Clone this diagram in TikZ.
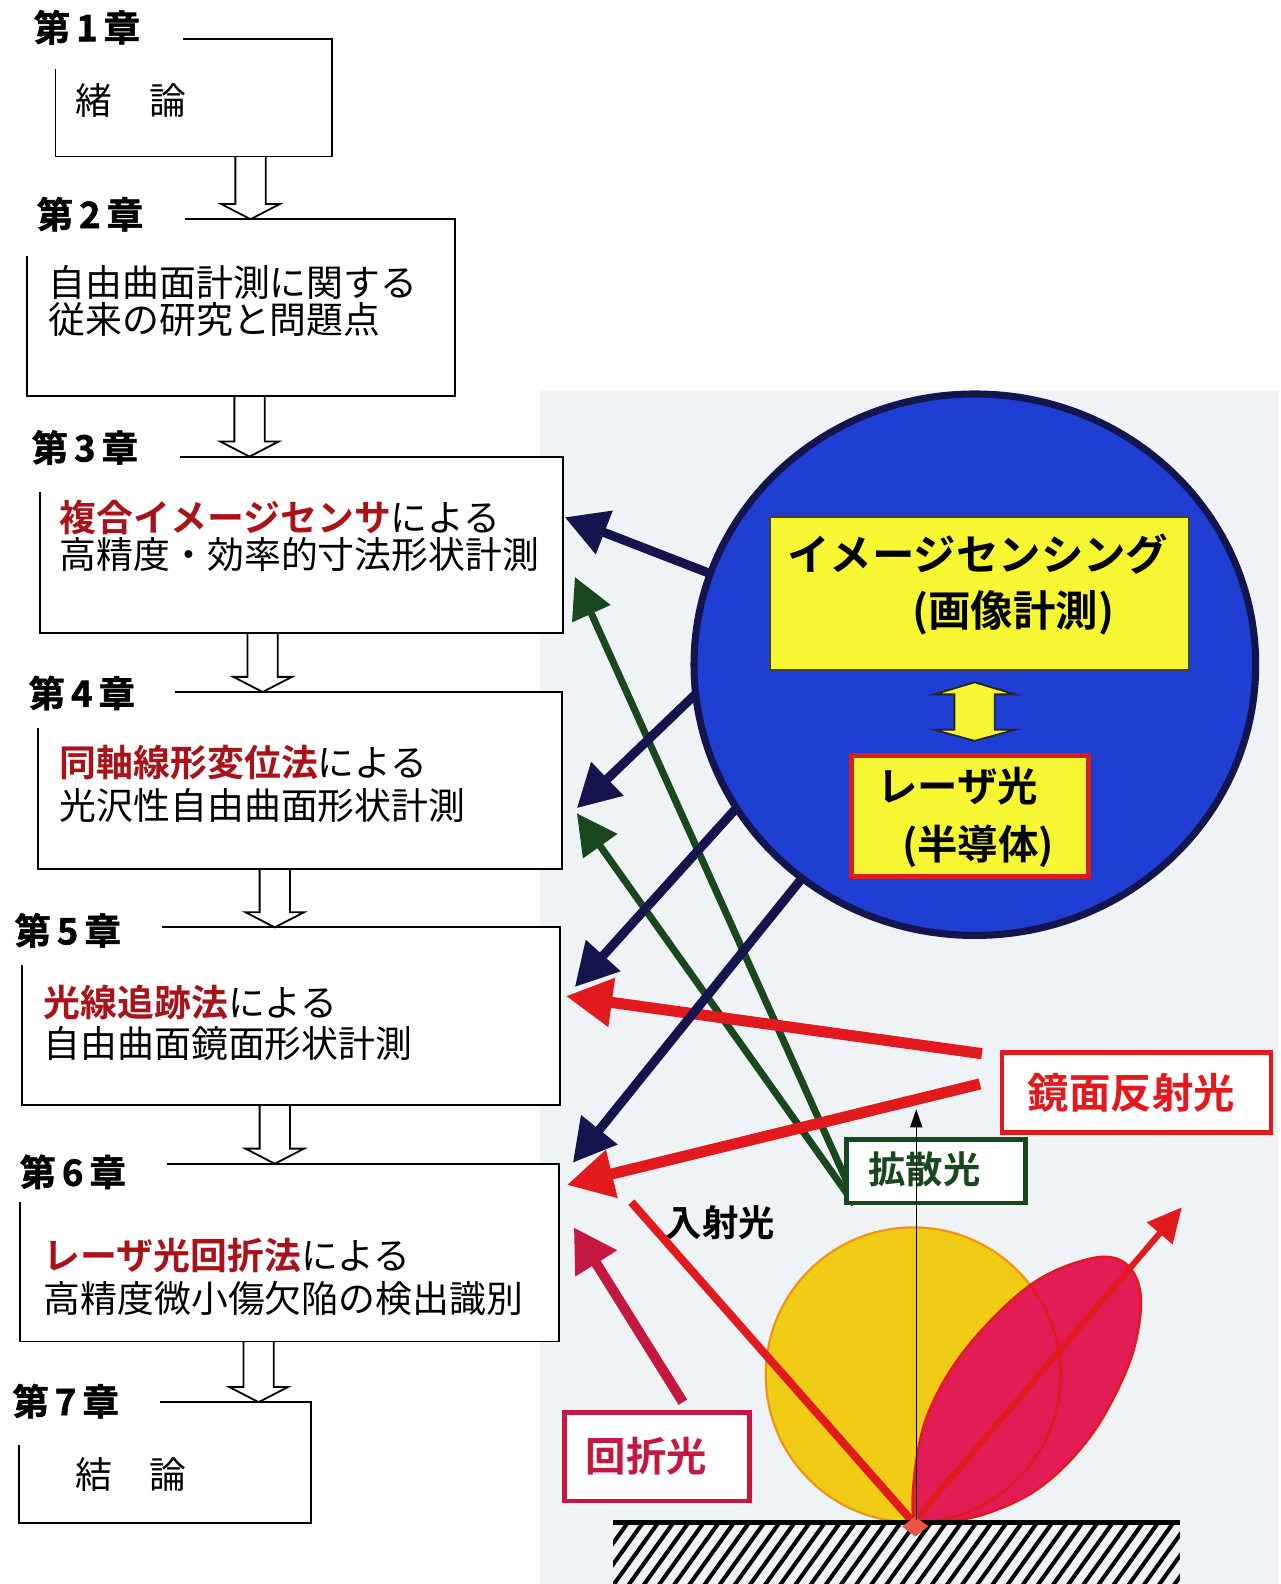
\documentclass[tikz,border=0pt]{standalone}
\usepackage{fontspec}
\setmainfont{Noto Sans CJK JP}[BoldFont={Noto Sans CJK JP Bold}]
\newfontfamily\heavyfont{Noto Sans CJK JP Bold}[FakeBold=1.5]
\usetikzlibrary{arrows.meta,shapes.geometric,calc}

\definecolor{panelbg}{RGB}{239,243,245}
\definecolor{keyred}{RGB}{168,18,24}
\definecolor{navyline}{RGB}{20,20,78}
\definecolor{sensorblue}{RGB}{30,62,212}
\definecolor{lemon}{RGB}{246,246,50}
\definecolor{laserred}{RGB}{214,30,30}
\definecolor{diffgreen}{RGB}{26,72,30}
\definecolor{specred}{RGB}{226,26,30}
\definecolor{crimson}{RGB}{196,24,64}
\definecolor{diffyellow}{RGB}{240,204,22}
\definecolor{difforange}{RGB}{236,150,20}
\definecolor{lobepink}{RGB}{226,28,84}
\definecolor{contactred}{RGB}{236,84,70}

\pgfdeclarelayer{front}
\pgfsetlayers{main,front}

\tikzset{
  boxbg/.style={inner sep=0pt, outer sep=0pt, fill=white, anchor=north west},
  boxline/.style={line width=1.8pt, black},
  hollow/.style={line width=1.8pt, black, line join=miter},
  chap/.style={font=\fontsize{36}{36}\selectfont\heavyfont, inner sep=0pt},
  body/.style={font=\fontsize{36.5}{36.5}\selectfont, inner sep=0pt, anchor=west},
  sens/.style={font=\fontsize{42}{42}\selectfont\bfseries, inner sep=0pt},
  lbl/.style={font=\fontsize{40}{40}\selectfont\bfseries, inner sep=0pt},
  navyarrow/.style={line width=9pt, navyline, -{Triangle[length=42pt,width=44pt]}},
  greenarrow/.style={line width=7pt, diffgreen, -{Triangle[length=40pt,width=40pt]}},
  redarrow/.style={line width=11pt, specred, -{Triangle[length=46pt,width=46pt]}},
  crimsonarrow/.style={line width=10pt, crimson, -{Triangle[length=42pt,width=46pt]}},
}

% red key phrase inside a chapter box
\newcommand\keyword[1]{{\color{keyred}\bfseries #1}}
% box outline left open where the chapter label sits
\newcommand\openframe[3]{%
  \draw[boxline] ([xshift=#2pt]#1.north west) -- (#1.north east) -- (#1.south east)
    -- (#1.south west) -- ([yshift=-#3pt]#1.north west);}
% hollow down arrow from one chapter box to the next
\newcommand\flowstep[3]{%
  \coordinate (#2hb) at ([yshift=15pt]#2.north);
  \draw[hollow] ({#3-15},0 |- #1.south) -- ({#3-15},0 |- #2hb) -- ({#3-29},0 |- #2hb)
    -- (#3,0 |- #2.north) -- ({#3+29},0 |- #2hb) -- ({#3+15},0 |- #2hb)
    -- ({#3+15},0 |- #1.south);}
% outline of the specular lobe, pointed at the point of incidence
\newcommand\lobepath{plot[smooth cycle, tension=0.62] coordinates {
  (905,1505) (908,1440) (925,1385) (962,1328) (1020,1272) (1075,1247) (1110,1248)
  (1128,1275) (1126,1320) (1110,1368) (1077,1425) (1030,1472) (977,1498) (930,1507)}}

\begin{document}
\begin{tikzpicture}[x=1pt,y=-1pt]
\useasboundingbox (0,0) rectangle (1268,1568);

% light panel behind the measurement sketch
\fill[panelbg] (535,387) rectangle (1265,1568);

% ---- chapter flow ----
\node[boxbg, minimum width=274pt, minimum height=116pt] (b1) at (55,39) {};
\node[boxbg, minimum width=423pt, minimum height=175pt] (b2) at (27,217) {};
\node[boxbg, minimum width=517pt, minimum height=175pt] (b3) at (40,452) {};
\node[boxbg, minimum width=518pt, minimum height=175pt] (b4) at (38,685) {};
\node[boxbg, minimum width=532pt, minimum height=176pt] (b5) at (22,918) {};
\node[boxbg, minimum width=533pt, minimum height=176pt] (b6) at (20,1152) {};
\node[boxbg, minimum width=289pt, minimum height=120pt] (b7) at (19,1388) {};

\openframe{b1}{126}{29}
\openframe{b2}{156}{36}
\openframe{b3}{138}{35}
\openframe{b4}{135}{36}
\openframe{b5}{138}{37}
\openframe{b6}{145}{38}
\openframe{b7}{139}{42}

\node[chap] (c1) at (86,27)   {第\hspace{6pt}1\hspace{6pt}章};
\node[chap] (c2) at (89,212)  {第\hspace{6pt}2\hspace{6pt}章};
\node[chap] (c3) at (84,443)  {第\hspace{6pt}3\hspace{6pt}章};
\node[chap] (c4) at (81,686)  {第\hspace{6pt}4\hspace{6pt}章};
\node[chap] (c5) at (67,921)  {第\hspace{6pt}5\hspace{6pt}章};
\node[chap] (c6) at (72,1160) {第\hspace{6pt}6\hspace{6pt}章};
\node[chap] (c7) at (65,1387) {第\hspace{6pt}7\hspace{6pt}章};

\node[body] (t1)  at (75,99)   {緒　論};
\node[body] (t2a) at (48,280)  {自由曲面計測に関する};
\node[body] (t2b) at (48,316)  {従来の研究と問題点};
\node[body] (t3a) at (59,512)  {\keyword{複合イメージセンサ}による};
\node[body] (t3b) at (59,549)  {高精度・効率的寸法形状計測};
\node[body] (t4a) at (59,755)  {\keyword{同軸線形変位法}による};
\node[body] (t4b) at (59,797)  {光沢性自由曲面形状計測};
\node[body] (t5a) at (43,992)  {\keyword{光線追跡法}による};
\node[body] (t5b) at (43,1033) {自由曲面鏡面形状計測};
\node[body] (t6a) at (43,1243) {\keyword{レーザ光回折法}による};
\node[body] (t6b) at (43,1285) {高精度微小傷欠陥の検出識別};
\node[body] (t7)  at (75,1460) {結　論};

\flowstep{b1}{b2}{248}
\flowstep{b2}{b3}{247}
\flowstep{b3}{b4}{260}
\flowstep{b4}{b5}{272}
\flowstep{b5}{b6}{272}
\flowstep{b6}{b7}{256}

% ---- sensor unit (kept on top of the rays) ----
\begin{pgfonlayer}{front}
  \node[ellipse, draw=navyline, line width=7pt, fill=sensorblue, inner sep=0pt,
        outer sep=0pt, minimum width=556pt, minimum height=536pt] (ell) at (965,658) {};
  \node[draw=black!75, line width=1.5pt, fill=lemon, inner sep=0pt,
        minimum width=415pt, minimum height=151pt] (imgbox) at (969.5,587.5) {};
  \node[sens] (imgt1) at (968,548) {イメージセンシング};
  \node[sens] (imgt2) at (1003,607) {(画像計測)};
  \node[draw=laserred, line width=5pt, fill=lemon, inner sep=0pt,
        minimum width=235pt, minimum height=120pt] (laserbox) at (960,807.5) {};
  \node[sens, font=\fontsize{40}{40}\selectfont\bfseries] (lt1) at (948,778) {レーザ光};
  \node[sens, font=\fontsize{40}{40}\selectfont\bfseries] (lt2) at (968,838) {(半導体)};
  \coordinate (dm) at ($(imgbox.south)!0.5!(laserbox.north)$);
  \filldraw[fill=lemon, draw=black!85, line width=1.8pt, line join=miter]
    (dm) ++(-40,-17) -- ++(40,-12) -- ++(40,12) -- ++(-20,0) -- ++(0,35)
    -- ++(20,0) -- ++(-40,11) -- ++(-40,-11) -- ++(20,0) -- ++(0,-35) -- cycle;
\end{pgfonlayer}

% ---- reflection sketch ----
\coordinate (hit) at (904,1507);
\coordinate (dc) at (904,1361);
\fill[diffyellow] (dc) circle [radius=146];
\draw[difforange, line width=2.2pt] (dc) circle [radius=146];
\fill[lobepink] \lobepath;
\begin{scope}
  \clip \lobepath;
  \draw[specred, line width=2.5pt] (dc) circle [radius=146];
\end{scope}
\draw[specred, line width=2.5pt] \lobepath;

\coordinate (inc) at (625,1190);
\coordinate (rtip) at (1170,1195);
\draw[specred, line width=8pt] (inc) -- (hit);
\draw[specred, line width=6pt, -{Triangle[length=34pt,width=32pt]}] (hit) -- (rtip);

% specimen surface and its hatching
\coordinate (sl) at (607,1507);
\coordinate (sr) at (1168,1507);
\begin{scope}
  \clip (607,1509) rectangle (1168,1568);
  \foreach \x in {530,545,...,1175} \draw[line width=4pt] (\x,1572) -- ++(46,-64);
\end{scope}
\draw[line width=5pt] (sl) -- (sr);
\fill[contactred] (906,1501) -- (919,1511) -- (906,1521) -- (893,1511) -- cycle;

% diffuse rays
\coordinate (g1s) at (843,1180);
\coordinate (g1t) at (569,571);
\coordinate (g2s) at (846,1192);
\coordinate (g2t) at (571,805);
\draw[greenarrow] (g1s) -- (g1t);
\draw[greenarrow] (g2s) -- (g2t);

\node[draw=diffgreen, line width=4.5pt, fill=white, inner sep=0pt,
      minimum width=177pt, minimum height=63pt] (diffbox) at (926.5,1159.5) {};
\node[lbl, text=diffgreen, font=\fontsize{37}{37}\selectfont\bfseries] (difftxt) at (915,1158) {拡散光};

% surface normal
\coordinate (nb) at (907,1505);
\coordinate (ntip) at (907,1098);
\draw[line width=1.4pt, -{Triangle[length=18pt,width=12pt]}] (nb) -- (ntip);

% specular rays
\coordinate (r1s) at (972,1043);
\coordinate (r1t) at (560,986);
\coordinate (r2s) at (970,1073);
\coordinate (r2t) at (561,1173);
\draw[redarrow] (r1s) -- (r1t);
\draw[redarrow] (r2s) -- (r2t);

% image-sensing rays
\coordinate (n1t) at (559,512);
\coordinate (n2t) at (571,800);
\coordinate (n3t) at (569,977);
\coordinate (n4t) at (567,1151);
\draw[navyarrow] (ell.161) -- (n1t);
\draw[navyarrow] (ell.186) -- (n2t);
\draw[navyarrow] (ell.211) -- (n3t);
\draw[navyarrow] (ell.231) -- (n4t);

% labels of the light components
\node[draw=specred, line width=4.5pt, fill=white, inner sep=0pt,
      minimum width=266pt, minimum height=79pt] (specbox) at (1125,1081.5) {};
\node[lbl, text=specred, font=\fontsize{41}{41}\selectfont\bfseries] (spectxt) at (1120,1082) {鏡面反射光};

\node[draw=crimson, line width=4.5pt, fill=white, inner sep=0pt,
      minimum width=183pt, minimum height=88pt] (diffrbox) at (650.5,1442) {};
\node[lbl, text=crimson] (diffrtxt) at (640,1441) {回折光};
\coordinate (dfs) at (676,1388);
\coordinate (dft) at (568,1215);
\draw[crimsonarrow] (dfs) -- (dft);

\node[lbl, font=\fontsize{36}{36}\selectfont\bfseries] (inctxt) at (713,1210) {入射光};
\end{tikzpicture}
\end{document}
